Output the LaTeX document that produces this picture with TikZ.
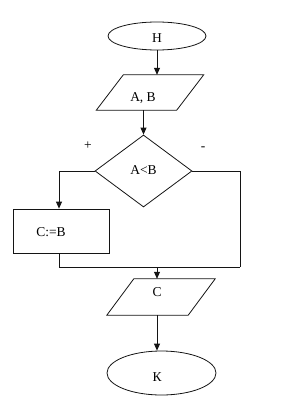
\documentclass[tikz,border=0pt]{standalone}
\usepackage{fontspec}
\setmainfont{Liberation Serif}
\usepackage{tikz}
\usetikzlibrary{shapes.geometric, arrows.meta, positioning, calc}
\definecolor{dark}{RGB}{20, 20, 20}
\tikzset{
    term/.style={ellipse, draw=dark, line width=0.8pt, inner sep=0pt},
    io/.style={rectangle, inner sep=0pt},
    decide/.style={diamond, draw=dark, line width=0.8pt, inner sep=0pt},
    proc/.style={rectangle, draw=dark, line width=0.8pt, inner sep=0pt},
    txt/.style={inner sep=0pt, font=\fontsize{13.5}{15}\selectfont},
    arr/.style={-{Triangle[length=7pt, width=6pt]}, line width=0.8pt, dark},
    ln/.style={line width=0.8pt, dark}
}
\begin{document}
\begin{tikzpicture}[x=1pt, y=-1pt]
                \useasboundingbox (0,0) rectangle (285,401);
                \node[term, minimum width=98pt, minimum height=28pt] (start) at (157,36) {};
                \node[io, minimum width=80pt, minimum height=35pt] (ab) at (150,92.5) {};
                \node[decide, minimum width=97pt, minimum height=72pt] (cond) at (143.5,171) {};
                \node[proc, minimum width=96pt, minimum height=44pt] (asgn) at (61,231) {};
                \node[io, minimum width=81pt, minimum height=36pt] (out) at (161,297) {};
                \node[term, minimum width=109pt, minimum height=44pt] (finish) at (161.5,373) {};
                % texts
                \node[txt] (starttxt) at ($(start)+(0,2)$) {Н};
                \node[txt] (abtxt) at ($(ab)+(-7,5.5)$) {A, B};
                \node[txt] (condtxt) at ($(cond)+(0,-1)$) {A<B};
                \node[txt] (asgntxt) at ($(asgn)+(-10,1)$) {C:=B};
                \node[txt] (outtxt) at ($(out)+(-4,-5)$) {C};
                \node[txt] (finishtxt) at ($(finish)+(-4.5,4)$) {К};
                \node[txt] (yes) at (88,146) {+};
                \node[txt] (no) at (203,149) {-};
                % parallelogram borders
                \draw[ln] ($(ab.north west)+(13.5,0)$) -- ($(ab.north east)+(13.5,0)$) -- ($(ab.south east)+(-13.5,0)$) -- ($(ab.south west)+(-13.5,0)$) -- cycle;
                \draw[ln] ($(out.north west)+(13.5,0)$) -- ($(out.north east)+(13.5,0)$) -- ($(out.south east)+(-13.5,0)$) -- ($(out.south west)+(-13.5,0)$) -- cycle;
                \coordinate (split) at (59,171);
                \coordinate (merge) at (157,267);
                \coordinate (right) at (240,267);
                \draw[arr] (start.south) -- (start.south |- ab.north);
                \draw[arr] (cond.north |- ab.south) -- (cond.north);
                \draw[arr] (cond.west) -- (split) -- (split |- asgn.north);
                \draw[ln] (split |- asgn.south) |- (right);
                \draw[ln] (cond.east) -| (right);
                \draw[arr] (merge) -- (merge |- out.north);
                \draw[arr] (merge |- out.south) -- (merge |- finish.north);
            \end{tikzpicture}
\end{document}
